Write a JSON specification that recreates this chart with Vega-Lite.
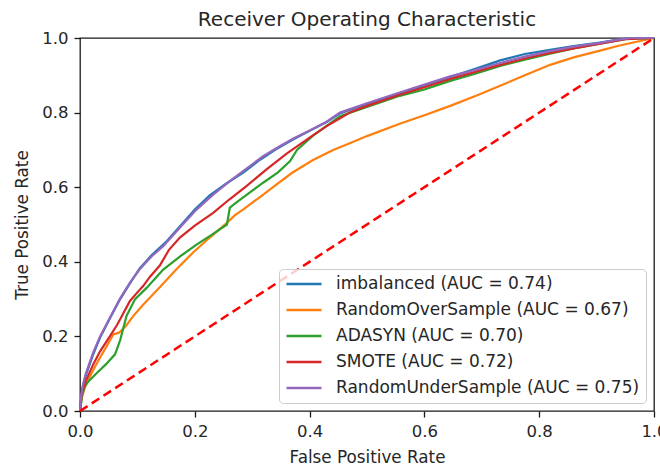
{
  "$schema": "https://vega.github.io/schema/vega-lite/v6.json",
  "autosize": {"type": "none"},
  "padding": {"left": 80, "top": 38, "right": 6, "bottom": 55},
  "width": 574,
  "height": 373,
  "background": "white",
  "config": {
    "font": "DejaVu Sans",
    "view": {"stroke": "#1a1a1a", "strokeWidth": 1.3},
    "axis": {
      "grid": false,
      "domain": false,
      "tickColor": "#1a1a1a",
      "tickSize": 6,
      "tickWidth": 1.3,
      "labelFont": "DejaVu Sans",
      "labelFontSize": 16.5,
      "labelColor": "#262626",
      "labelPadding": 6,
      "titleFont": "DejaVu Sans",
      "titleFontSize": 16.8,
      "titleFontWeight": "normal",
      "titleColor": "#262626"
    }
  },
  "title": {
    "text": "Receiver Operating Characteristic",
    "font": "DejaVu Sans",
    "fontSize": 20,
    "fontWeight": "normal",
    "color": "#262626",
    "anchor": "middle",
    "offset": 0
  },
  "datasets": {
    "roc": [
      {"model": "imbalanced (AUC = 0.74)", "fpr": 0, "tpr": 0},
      {"model": "imbalanced (AUC = 0.74)", "fpr": 0.002, "tpr": 0.035},
      {"model": "imbalanced (AUC = 0.74)", "fpr": 0.005, "tpr": 0.065},
      {"model": "imbalanced (AUC = 0.74)", "fpr": 0.01, "tpr": 0.095},
      {"model": "imbalanced (AUC = 0.74)", "fpr": 0.023, "tpr": 0.152},
      {"model": "imbalanced (AUC = 0.74)", "fpr": 0.035, "tpr": 0.197},
      {"model": "imbalanced (AUC = 0.74)", "fpr": 0.052, "tpr": 0.248},
      {"model": "imbalanced (AUC = 0.74)", "fpr": 0.07, "tpr": 0.3},
      {"model": "imbalanced (AUC = 0.74)", "fpr": 0.087, "tpr": 0.342},
      {"model": "imbalanced (AUC = 0.74)", "fpr": 0.104, "tpr": 0.382},
      {"model": "imbalanced (AUC = 0.74)", "fpr": 0.125, "tpr": 0.418},
      {"model": "imbalanced (AUC = 0.74)", "fpr": 0.151, "tpr": 0.455},
      {"model": "imbalanced (AUC = 0.74)", "fpr": 0.175, "tpr": 0.497},
      {"model": "imbalanced (AUC = 0.74)", "fpr": 0.2, "tpr": 0.54},
      {"model": "imbalanced (AUC = 0.74)", "fpr": 0.226, "tpr": 0.578},
      {"model": "imbalanced (AUC = 0.74)", "fpr": 0.255, "tpr": 0.61},
      {"model": "imbalanced (AUC = 0.74)", "fpr": 0.285, "tpr": 0.64},
      {"model": "imbalanced (AUC = 0.74)", "fpr": 0.313, "tpr": 0.673},
      {"model": "imbalanced (AUC = 0.74)", "fpr": 0.34, "tpr": 0.7},
      {"model": "imbalanced (AUC = 0.74)", "fpr": 0.371, "tpr": 0.728},
      {"model": "imbalanced (AUC = 0.74)", "fpr": 0.4, "tpr": 0.751},
      {"model": "imbalanced (AUC = 0.74)", "fpr": 0.429, "tpr": 0.774},
      {"model": "imbalanced (AUC = 0.74)", "fpr": 0.453, "tpr": 0.798},
      {"model": "imbalanced (AUC = 0.74)", "fpr": 0.5, "tpr": 0.823},
      {"model": "imbalanced (AUC = 0.74)", "fpr": 0.557, "tpr": 0.852},
      {"model": "imbalanced (AUC = 0.74)", "fpr": 0.6, "tpr": 0.873},
      {"model": "imbalanced (AUC = 0.74)", "fpr": 0.645, "tpr": 0.895},
      {"model": "imbalanced (AUC = 0.74)", "fpr": 0.69, "tpr": 0.918},
      {"model": "imbalanced (AUC = 0.74)", "fpr": 0.732, "tpr": 0.94},
      {"model": "imbalanced (AUC = 0.74)", "fpr": 0.775, "tpr": 0.957},
      {"model": "imbalanced (AUC = 0.74)", "fpr": 0.819, "tpr": 0.968},
      {"model": "imbalanced (AUC = 0.74)", "fpr": 0.86, "tpr": 0.978},
      {"model": "imbalanced (AUC = 0.74)", "fpr": 0.906, "tpr": 0.988},
      {"model": "imbalanced (AUC = 0.74)", "fpr": 0.935, "tpr": 0.995},
      {"model": "imbalanced (AUC = 0.74)", "fpr": 0.96, "tpr": 1.0},
      {"model": "imbalanced (AUC = 0.74)", "fpr": 1, "tpr": 1},

      {"model": "RandomOverSample (AUC = 0.67)", "fpr": 0, "tpr": 0},
      {"model": "RandomOverSample (AUC = 0.67)", "fpr": 0.003, "tpr": 0.035},
      {"model": "RandomOverSample (AUC = 0.67)", "fpr": 0.01, "tpr": 0.07},
      {"model": "RandomOverSample (AUC = 0.67)", "fpr": 0.018, "tpr": 0.095},
      {"model": "RandomOverSample (AUC = 0.67)", "fpr": 0.03, "tpr": 0.13},
      {"model": "RandomOverSample (AUC = 0.67)", "fpr": 0.045, "tpr": 0.17},
      {"model": "RandomOverSample (AUC = 0.67)", "fpr": 0.058, "tpr": 0.205},
      {"model": "RandomOverSample (AUC = 0.67)", "fpr": 0.068, "tpr": 0.21},
      {"model": "RandomOverSample (AUC = 0.67)", "fpr": 0.08, "tpr": 0.228},
      {"model": "RandomOverSample (AUC = 0.67)", "fpr": 0.093, "tpr": 0.255},
      {"model": "RandomOverSample (AUC = 0.67)", "fpr": 0.11, "tpr": 0.285},
      {"model": "RandomOverSample (AUC = 0.67)", "fpr": 0.139, "tpr": 0.332},
      {"model": "RandomOverSample (AUC = 0.67)", "fpr": 0.168, "tpr": 0.38},
      {"model": "RandomOverSample (AUC = 0.67)", "fpr": 0.197, "tpr": 0.425},
      {"model": "RandomOverSample (AUC = 0.67)", "fpr": 0.226, "tpr": 0.465},
      {"model": "RandomOverSample (AUC = 0.67)", "fpr": 0.255, "tpr": 0.503},
      {"model": "RandomOverSample (AUC = 0.67)", "fpr": 0.27, "tpr": 0.525},
      {"model": "RandomOverSample (AUC = 0.67)", "fpr": 0.284, "tpr": 0.54},
      {"model": "RandomOverSample (AUC = 0.67)", "fpr": 0.313, "tpr": 0.573},
      {"model": "RandomOverSample (AUC = 0.67)", "fpr": 0.342, "tpr": 0.607},
      {"model": "RandomOverSample (AUC = 0.67)", "fpr": 0.371, "tpr": 0.64},
      {"model": "RandomOverSample (AUC = 0.67)", "fpr": 0.406, "tpr": 0.673},
      {"model": "RandomOverSample (AUC = 0.67)", "fpr": 0.441, "tpr": 0.7},
      {"model": "RandomOverSample (AUC = 0.67)", "fpr": 0.47, "tpr": 0.718},
      {"model": "RandomOverSample (AUC = 0.67)", "fpr": 0.5, "tpr": 0.737},
      {"model": "RandomOverSample (AUC = 0.67)", "fpr": 0.557, "tpr": 0.77},
      {"model": "RandomOverSample (AUC = 0.67)", "fpr": 0.6, "tpr": 0.793},
      {"model": "RandomOverSample (AUC = 0.67)", "fpr": 0.645, "tpr": 0.818},
      {"model": "RandomOverSample (AUC = 0.67)", "fpr": 0.69, "tpr": 0.845},
      {"model": "RandomOverSample (AUC = 0.67)", "fpr": 0.732, "tpr": 0.872},
      {"model": "RandomOverSample (AUC = 0.67)", "fpr": 0.775, "tpr": 0.9},
      {"model": "RandomOverSample (AUC = 0.67)", "fpr": 0.819, "tpr": 0.928},
      {"model": "RandomOverSample (AUC = 0.67)", "fpr": 0.86, "tpr": 0.948},
      {"model": "RandomOverSample (AUC = 0.67)", "fpr": 0.906, "tpr": 0.966},
      {"model": "RandomOverSample (AUC = 0.67)", "fpr": 0.94, "tpr": 0.98},
      {"model": "RandomOverSample (AUC = 0.67)", "fpr": 0.97, "tpr": 0.99},
      {"model": "RandomOverSample (AUC = 0.67)", "fpr": 1, "tpr": 1},

      {"model": "ADASYN (AUC = 0.70)", "fpr": 0, "tpr": 0},
      {"model": "ADASYN (AUC = 0.70)", "fpr": 0.004, "tpr": 0.045},
      {"model": "ADASYN (AUC = 0.70)", "fpr": 0.008, "tpr": 0.065},
      {"model": "ADASYN (AUC = 0.70)", "fpr": 0.015, "tpr": 0.08},
      {"model": "ADASYN (AUC = 0.70)", "fpr": 0.028, "tpr": 0.1},
      {"model": "ADASYN (AUC = 0.70)", "fpr": 0.045, "tpr": 0.125},
      {"model": "ADASYN (AUC = 0.70)", "fpr": 0.061, "tpr": 0.152},
      {"model": "ADASYN (AUC = 0.70)", "fpr": 0.07, "tpr": 0.19},
      {"model": "ADASYN (AUC = 0.70)", "fpr": 0.081, "tpr": 0.255},
      {"model": "ADASYN (AUC = 0.70)", "fpr": 0.096, "tpr": 0.3},
      {"model": "ADASYN (AUC = 0.70)", "fpr": 0.116, "tpr": 0.33},
      {"model": "ADASYN (AUC = 0.70)", "fpr": 0.145, "tpr": 0.379},
      {"model": "ADASYN (AUC = 0.70)", "fpr": 0.175, "tpr": 0.415},
      {"model": "ADASYN (AUC = 0.70)", "fpr": 0.203, "tpr": 0.446},
      {"model": "ADASYN (AUC = 0.70)", "fpr": 0.23, "tpr": 0.473},
      {"model": "ADASYN (AUC = 0.70)", "fpr": 0.256, "tpr": 0.5},
      {"model": "ADASYN (AUC = 0.70)", "fpr": 0.261, "tpr": 0.545},
      {"model": "ADASYN (AUC = 0.70)", "fpr": 0.275, "tpr": 0.562},
      {"model": "ADASYN (AUC = 0.70)", "fpr": 0.319, "tpr": 0.612},
      {"model": "ADASYN (AUC = 0.70)", "fpr": 0.345, "tpr": 0.64},
      {"model": "ADASYN (AUC = 0.70)", "fpr": 0.366, "tpr": 0.67},
      {"model": "ADASYN (AUC = 0.70)", "fpr": 0.378, "tpr": 0.7},
      {"model": "ADASYN (AUC = 0.70)", "fpr": 0.406, "tpr": 0.738},
      {"model": "ADASYN (AUC = 0.70)", "fpr": 0.453, "tpr": 0.79},
      {"model": "ADASYN (AUC = 0.70)", "fpr": 0.5, "tpr": 0.815},
      {"model": "ADASYN (AUC = 0.70)", "fpr": 0.557, "tpr": 0.845},
      {"model": "ADASYN (AUC = 0.70)", "fpr": 0.6, "tpr": 0.862},
      {"model": "ADASYN (AUC = 0.70)", "fpr": 0.645, "tpr": 0.885},
      {"model": "ADASYN (AUC = 0.70)", "fpr": 0.69, "tpr": 0.905},
      {"model": "ADASYN (AUC = 0.70)", "fpr": 0.732, "tpr": 0.925},
      {"model": "ADASYN (AUC = 0.70)", "fpr": 0.775, "tpr": 0.942},
      {"model": "ADASYN (AUC = 0.70)", "fpr": 0.819, "tpr": 0.958},
      {"model": "ADASYN (AUC = 0.70)", "fpr": 0.86, "tpr": 0.972},
      {"model": "ADASYN (AUC = 0.70)", "fpr": 0.906, "tpr": 0.985},
      {"model": "ADASYN (AUC = 0.70)", "fpr": 0.95, "tpr": 0.997},
      {"model": "ADASYN (AUC = 0.70)", "fpr": 1, "tpr": 1},

      {"model": "SMOTE (AUC = 0.72)", "fpr": 0, "tpr": 0},
      {"model": "SMOTE (AUC = 0.72)", "fpr": 0.003, "tpr": 0.045},
      {"model": "SMOTE (AUC = 0.72)", "fpr": 0.01, "tpr": 0.08},
      {"model": "SMOTE (AUC = 0.72)", "fpr": 0.023, "tpr": 0.125},
      {"model": "SMOTE (AUC = 0.72)", "fpr": 0.035, "tpr": 0.16},
      {"model": "SMOTE (AUC = 0.72)", "fpr": 0.052, "tpr": 0.2},
      {"model": "SMOTE (AUC = 0.72)", "fpr": 0.065, "tpr": 0.232},
      {"model": "SMOTE (AUC = 0.72)", "fpr": 0.087, "tpr": 0.295},
      {"model": "SMOTE (AUC = 0.72)", "fpr": 0.1, "tpr": 0.318},
      {"model": "SMOTE (AUC = 0.72)", "fpr": 0.11, "tpr": 0.335},
      {"model": "SMOTE (AUC = 0.72)", "fpr": 0.122, "tpr": 0.36},
      {"model": "SMOTE (AUC = 0.72)", "fpr": 0.139, "tpr": 0.39},
      {"model": "SMOTE (AUC = 0.72)", "fpr": 0.155, "tpr": 0.432},
      {"model": "SMOTE (AUC = 0.72)", "fpr": 0.174, "tpr": 0.465},
      {"model": "SMOTE (AUC = 0.72)", "fpr": 0.2, "tpr": 0.497},
      {"model": "SMOTE (AUC = 0.72)", "fpr": 0.232, "tpr": 0.531},
      {"model": "SMOTE (AUC = 0.72)", "fpr": 0.26, "tpr": 0.567},
      {"model": "SMOTE (AUC = 0.72)", "fpr": 0.29, "tpr": 0.603},
      {"model": "SMOTE (AUC = 0.72)", "fpr": 0.325, "tpr": 0.648},
      {"model": "SMOTE (AUC = 0.72)", "fpr": 0.36, "tpr": 0.69},
      {"model": "SMOTE (AUC = 0.72)", "fpr": 0.4, "tpr": 0.733},
      {"model": "SMOTE (AUC = 0.72)", "fpr": 0.429, "tpr": 0.763},
      {"model": "SMOTE (AUC = 0.72)", "fpr": 0.453, "tpr": 0.785},
      {"model": "SMOTE (AUC = 0.72)", "fpr": 0.47, "tpr": 0.8},
      {"model": "SMOTE (AUC = 0.72)", "fpr": 0.5, "tpr": 0.818},
      {"model": "SMOTE (AUC = 0.72)", "fpr": 0.557, "tpr": 0.848},
      {"model": "SMOTE (AUC = 0.72)", "fpr": 0.6, "tpr": 0.868},
      {"model": "SMOTE (AUC = 0.72)", "fpr": 0.645, "tpr": 0.89},
      {"model": "SMOTE (AUC = 0.72)", "fpr": 0.69, "tpr": 0.91},
      {"model": "SMOTE (AUC = 0.72)", "fpr": 0.732, "tpr": 0.928},
      {"model": "SMOTE (AUC = 0.72)", "fpr": 0.775, "tpr": 0.945},
      {"model": "SMOTE (AUC = 0.72)", "fpr": 0.819, "tpr": 0.96},
      {"model": "SMOTE (AUC = 0.72)", "fpr": 0.86, "tpr": 0.972},
      {"model": "SMOTE (AUC = 0.72)", "fpr": 0.906, "tpr": 0.985},
      {"model": "SMOTE (AUC = 0.72)", "fpr": 0.95, "tpr": 0.997},
      {"model": "SMOTE (AUC = 0.72)", "fpr": 1, "tpr": 1},

      {"model": "RandomUnderSample (AUC = 0.75)", "fpr": 0, "tpr": 0},
      {"model": "RandomUnderSample (AUC = 0.75)", "fpr": 0.002, "tpr": 0.04},
      {"model": "RandomUnderSample (AUC = 0.75)", "fpr": 0.005, "tpr": 0.07},
      {"model": "RandomUnderSample (AUC = 0.75)", "fpr": 0.01, "tpr": 0.1},
      {"model": "RandomUnderSample (AUC = 0.75)", "fpr": 0.023, "tpr": 0.157},
      {"model": "RandomUnderSample (AUC = 0.75)", "fpr": 0.035, "tpr": 0.2},
      {"model": "RandomUnderSample (AUC = 0.75)", "fpr": 0.052, "tpr": 0.25},
      {"model": "RandomUnderSample (AUC = 0.75)", "fpr": 0.07, "tpr": 0.302},
      {"model": "RandomUnderSample (AUC = 0.75)", "fpr": 0.087, "tpr": 0.344},
      {"model": "RandomUnderSample (AUC = 0.75)", "fpr": 0.104, "tpr": 0.38},
      {"model": "RandomUnderSample (AUC = 0.75)", "fpr": 0.125, "tpr": 0.415},
      {"model": "RandomUnderSample (AUC = 0.75)", "fpr": 0.145, "tpr": 0.442},
      {"model": "RandomUnderSample (AUC = 0.75)", "fpr": 0.175, "tpr": 0.493},
      {"model": "RandomUnderSample (AUC = 0.75)", "fpr": 0.203, "tpr": 0.54},
      {"model": "RandomUnderSample (AUC = 0.75)", "fpr": 0.232, "tpr": 0.58},
      {"model": "RandomUnderSample (AUC = 0.75)", "fpr": 0.261, "tpr": 0.616},
      {"model": "RandomUnderSample (AUC = 0.75)", "fpr": 0.29, "tpr": 0.65},
      {"model": "RandomUnderSample (AUC = 0.75)", "fpr": 0.319, "tpr": 0.683},
      {"model": "RandomUnderSample (AUC = 0.75)", "fpr": 0.345, "tpr": 0.707},
      {"model": "RandomUnderSample (AUC = 0.75)", "fpr": 0.371, "tpr": 0.73},
      {"model": "RandomUnderSample (AUC = 0.75)", "fpr": 0.4, "tpr": 0.752},
      {"model": "RandomUnderSample (AUC = 0.75)", "fpr": 0.429, "tpr": 0.775},
      {"model": "RandomUnderSample (AUC = 0.75)", "fpr": 0.453, "tpr": 0.8},
      {"model": "RandomUnderSample (AUC = 0.75)", "fpr": 0.5, "tpr": 0.825},
      {"model": "RandomUnderSample (AUC = 0.75)", "fpr": 0.557, "tpr": 0.854},
      {"model": "RandomUnderSample (AUC = 0.75)", "fpr": 0.6, "tpr": 0.875},
      {"model": "RandomUnderSample (AUC = 0.75)", "fpr": 0.645, "tpr": 0.897},
      {"model": "RandomUnderSample (AUC = 0.75)", "fpr": 0.69, "tpr": 0.915},
      {"model": "RandomUnderSample (AUC = 0.75)", "fpr": 0.732, "tpr": 0.933},
      {"model": "RandomUnderSample (AUC = 0.75)", "fpr": 0.775, "tpr": 0.95},
      {"model": "RandomUnderSample (AUC = 0.75)", "fpr": 0.819, "tpr": 0.965},
      {"model": "RandomUnderSample (AUC = 0.75)", "fpr": 0.86, "tpr": 0.977},
      {"model": "RandomUnderSample (AUC = 0.75)", "fpr": 0.906, "tpr": 0.987},
      {"model": "RandomUnderSample (AUC = 0.75)", "fpr": 0.935, "tpr": 0.995},
      {"model": "RandomUnderSample (AUC = 0.75)", "fpr": 0.96, "tpr": 1.0},
      {"model": "RandomUnderSample (AUC = 0.75)", "fpr": 1, "tpr": 1}
    ],
    "chance": [
      {"fpr": 0, "tpr": 0},
      {"fpr": 1, "tpr": 1}
    ]
  },
  "layer": [
    {
      "data": {"name": "roc"},
      "mark": {"type": "line", "strokeWidth": 2.2, "interpolate": "linear"},
      "encoding": {
        "x": {
          "field": "fpr", "type": "quantitative",
          "scale": {"domain": [0, 1], "nice": false},
          "axis": {"title": "False Positive Rate", "values": [0, 0.2, 0.4, 0.6, 0.8, 1.0], "format": ".1f", "labelFlush": false, "titlePadding": 10}
        },
        "y": {
          "field": "tpr", "type": "quantitative",
          "scale": {"domain": [0, 1], "nice": false},
          "axis": {"title": "True Positive Rate", "values": [0, 0.2, 0.4, 0.6, 0.8, 1.0], "format": ".1f", "labelFlush": false, "titlePadding": 10}
        },
        "color": {
          "field": "model", "type": "nominal",
          "scale": {
            "domain": ["imbalanced (AUC = 0.74)", "RandomOverSample (AUC = 0.67)", "ADASYN (AUC = 0.70)", "SMOTE (AUC = 0.72)", "RandomUnderSample (AUC = 0.75)"],
            "range": ["#1f77b4", "#ff7f0e", "#2ca02c", "#d62728", "#9467bd"]
          },
          "legend": {
            "title": null,
            "orient": "bottom-right",
            "offset": 8,
            "symbolType": "stroke",
            "symbolSize": 1225,
            "symbolStrokeWidth": 2.6,
            "clipHeight": 18,
            "labelFont": "DejaVu Sans",
            "labelFontSize": 17,
            "labelColor": "#262626",
            "labelOffset": 13,
            "labelLimit": 400,
            "rowPadding": 8,
            "padding": 6,
            "fillColor": "rgba(255,255,255,0.8)",
            "strokeColor": "#cccccc",
            "cornerRadius": 4
          }
        }
      }
    },
    {
      "data": {"name": "chance"},
      "mark": {"type": "line", "color": "#ff0000", "strokeWidth": 2.5, "strokeDash": [9, 5]},
      "encoding": {
        "x": {"field": "fpr", "type": "quantitative"},
        "y": {"field": "tpr", "type": "quantitative"}
      }
    }
  ]
}
